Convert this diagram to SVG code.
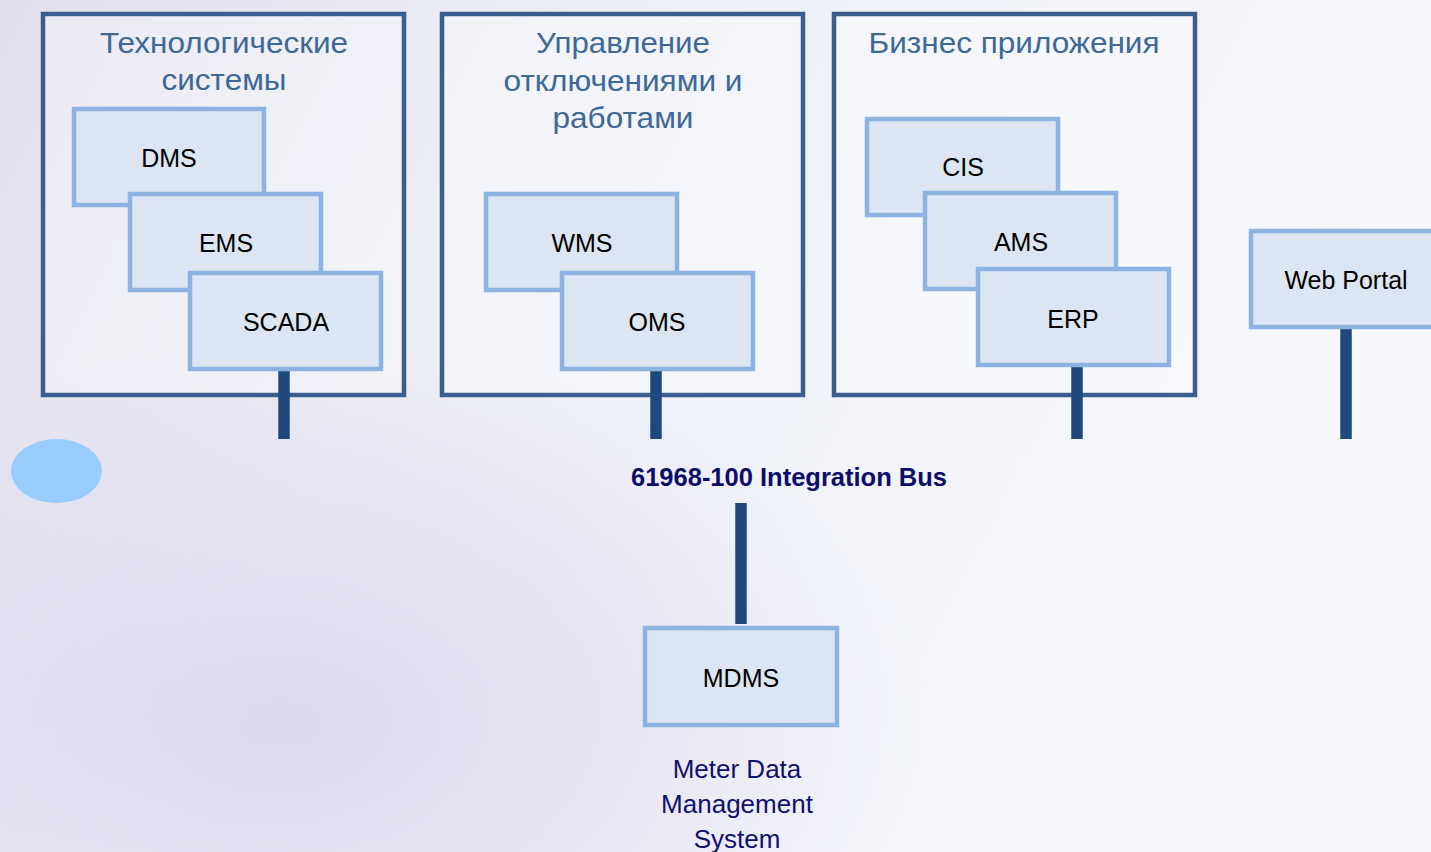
<svg xmlns="http://www.w3.org/2000/svg" width="1431" height="852" viewBox="0 0 1431 852">
<defs>
<linearGradient id="bgGrad" x1="0" y1="0" x2="1" y2="0.3">
<stop offset="0" stop-color="#e0deed"/>
<stop offset="0.35" stop-color="#eceef6"/>
<stop offset="1" stop-color="#f6f8fc"/>
</linearGradient>
<radialGradient id="lav" cx="0.2" cy="0.85" r="0.45">
<stop offset="0" stop-color="#d9d2ea" stop-opacity="0.8"/>
<stop offset="1" stop-color="#d9d2ea" stop-opacity="0"/>
</radialGradient>
<style>
.group{fill:#ffffff;fill-opacity:0.35;stroke:#3a5f8e;stroke-width:4.5}
.title{font-family:"Liberation Sans",Arial,sans-serif;font-size:29.5px;fill:#3d6898;text-anchor:middle}
.node{fill:#dce6f2;stroke:#8db3e2;stroke-width:4.5}
.label{font-family:"Liberation Sans",Arial,sans-serif;font-size:25px;fill:#000000;text-anchor:middle}
.conn{stroke:#1f497d;stroke-width:11.5;fill:none}
.bus{font-family:"Liberation Sans",Arial,sans-serif;font-size:25.5px;font-weight:bold;fill:#0c0c6b;text-anchor:middle}
.desc{font-family:"Liberation Sans",Arial,sans-serif;font-size:26px;fill:#10106e;text-anchor:middle}
</style>
</defs>
<g id="background">
<rect x="0" y="0" width="1431" height="852" fill="url(#bgGrad)"/>
<rect x="0" y="0" width="1431" height="852" fill="url(#lav)"/>
</g>
<g id="group-tech">
<rect class="group" x="43" y="14" width="361" height="381"/>
<text class="title" x="224" y="53" textLength="248" lengthAdjust="spacingAndGlyphs">Технологические</text>
<text class="title" x="224" y="90" textLength="125" lengthAdjust="spacingAndGlyphs">системы</text>
</g>
<g id="group-outage">
<rect class="group" x="442" y="14" width="361" height="381"/>
<text class="title" x="623" y="53" textLength="174" lengthAdjust="spacingAndGlyphs">Управление</text>
<text class="title" x="623" y="91" textLength="239" lengthAdjust="spacingAndGlyphs">отключениями и</text>
<text class="title" x="623" y="128" textLength="141" lengthAdjust="spacingAndGlyphs">работами</text>
</g>
<g id="group-business">
<rect class="group" x="834" y="14" width="361" height="381"/>
<text class="title" x="1014" y="53" textLength="291" lengthAdjust="spacingAndGlyphs">Бизнес приложения</text>
</g>
<g id="connectors">
<line class="conn" x1="284" y1="369" x2="284" y2="439"/>
<line class="conn" x1="656" y1="369" x2="656" y2="439"/>
<line class="conn" x1="1077" y1="366" x2="1077" y2="439"/>
<line class="conn" x1="1346" y1="327" x2="1346" y2="439"/>
<line class="conn" x1="741" y1="503" x2="741" y2="624"/>
</g>
<g id="node-dms">
<rect class="node" x="74" y="109" width="190" height="96"/>
<text class="label" x="169" y="167">DMS</text>
</g>
<g id="node-ems">
<rect class="node" x="130" y="194" width="191" height="96"/>
<text class="label" x="226" y="252">EMS</text>
</g>
<g id="node-scada">
<rect class="node" x="190" y="273" width="191" height="96"/>
<text class="label" x="286" y="331">SCADA</text>
</g>
<g id="node-wms">
<rect class="node" x="486" y="194" width="191" height="96"/>
<text class="label" x="582" y="252">WMS</text>
</g>
<g id="node-oms">
<rect class="node" x="562" y="273" width="191" height="96"/>
<text class="label" x="657" y="331">OMS</text>
</g>
<g id="node-cis">
<rect class="node" x="867" y="119" width="191" height="96"/>
<text class="label" x="963" y="176">CIS</text>
</g>
<g id="node-ams">
<rect class="node" x="925" y="193" width="191" height="96"/>
<text class="label" x="1021" y="251">AMS</text>
</g>
<g id="node-erp">
<rect class="node" x="978" y="269" width="191" height="96"/>
<text class="label" x="1073" y="328">ERP</text>
</g>
<g id="node-webportal">
<rect class="node" x="1251" y="231" width="191" height="96"/>
<text class="label" x="1346" y="289">Web Portal</text>
</g>
<g id="ellipse">
<ellipse cx="56.5" cy="471" rx="45.5" ry="32" fill="#99ccff"/>
</g>
<g id="bus-label">
<text class="bus" x="789" y="486">61968-100 Integration Bus</text>
</g>
<g id="node-mdms">
<rect class="node" x="645" y="628" width="192" height="97"/>
<text class="label" x="741" y="687">MDMS</text>
</g>
<g id="mdms-desc">
<text class="desc" x="737" y="778">Meter Data</text>
<text class="desc" x="737" y="813">Management</text>
<text class="desc" x="737" y="848">System</text>
</g>
</svg>
